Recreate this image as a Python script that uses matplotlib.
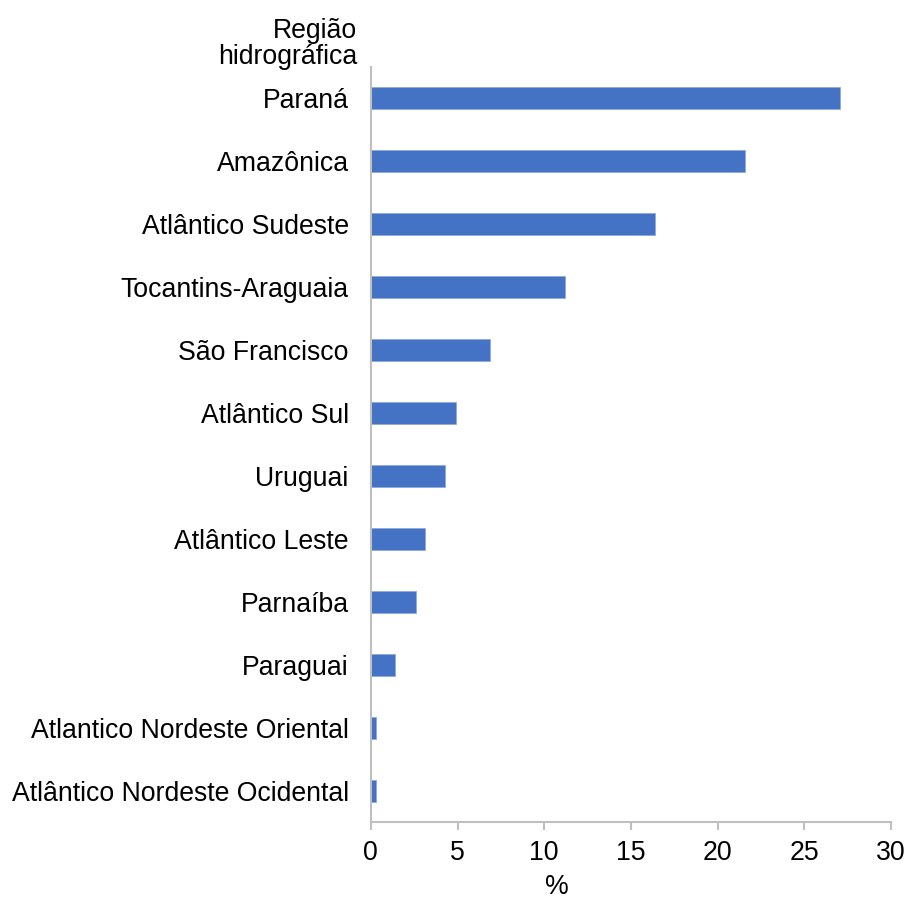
import matplotlib.pyplot as plt

regions = [
    'Paraná', 'Amazônica', 'Atlântico Sudeste', 'Tocantins-Araguaia',
    'São Francisco', 'Atlântico Sul', 'Uruguai', 'Atlântico Leste',
    'Parnaíba', 'Paraguai', 'Atlantico Nordeste Oriental',
    'Atlântico Nordeste Ocidental',
]
percent = [27.05, 21.6, 16.4, 11.2, 6.9, 4.9, 4.3, 3.15, 2.6, 1.4, 0.27, 0.27]
xticks = [0, 5, 10, 15, 20, 25, 30]

plt.rcParams['font.family'] = ['Liberation Sans', 'DejaVu Sans']
grey = '#BFBFBF'
fs = 19.2

fig = plt.figure(figsize=(9.09, 9.02), dpi=100)
ax = fig.add_axes([0.408, 0.0887, 0.572, 0.837])

ypos = list(range(len(regions)))
ax.barh(ypos, percent, height=0.35, color='#4472C4', edgecolor='#8EA9DB',
        linewidth=0.6)

ax.set_ylim(len(regions) - 0.5, -0.5)
ax.set_xlim(0, 30)
ax.set_yticks(ypos)
ax.set_yticklabels(regions, fontsize=fs)
ax.set_xticks(xticks)
ax.set_xticklabels([str(t) for t in xticks], fontsize=fs)

ax.tick_params(axis='y', length=0, pad=16)
ax.tick_params(axis='x', length=6, width=1.5, color=grey, pad=7)

for side in ['top', 'right']:
    ax.spines[side].set_visible(False)
for side in ['left', 'bottom']:
    ax.spines[side].set_color(grey)
    ax.spines[side].set_linewidth(1.5)

# axis titles placed like in the original
fig.text(357 / 909, 1 - 44 / 902, 'Região\nhidrográfica', ha='right',
         va='center', fontsize=fs, linespacing=0.95)
fig.text(557 / 909, 1 - 887 / 902, '%', ha='center', va='center', fontsize=fs)

fig.savefig('out.png', dpi=100)
